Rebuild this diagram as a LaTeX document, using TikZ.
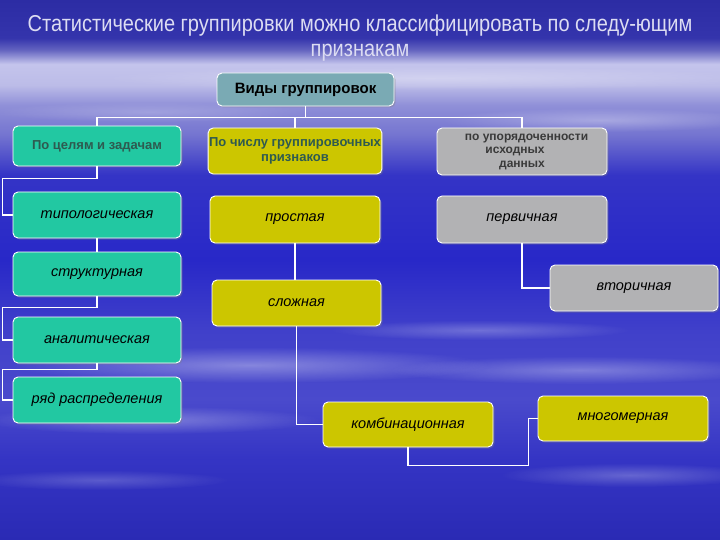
\documentclass[tikz,border=0pt]{standalone}
\usepackage{fontspec}
\setmainfont{Liberation Sans}
\newfontfamily\titlefont[FakeStretch=0.87]{Liberation Sans}
\usetikzlibrary{fadings,shadows}
\definecolor{s0}{HTML}{2C2CA4}
\definecolor{s1}{HTML}{3434AC}
\definecolor{s2}{HTML}{6464C0}
\definecolor{s3}{HTML}{C4C4EC}
\definecolor{s4}{HTML}{BCBCE8}
\definecolor{s5}{HTML}{9090D8}
\definecolor{s6}{HTML}{7474D0}
\definecolor{s7}{HTML}{3434C6}
\definecolor{s8}{HTML}{2828C8}
\definecolor{s9}{HTML}{4040CA}
\definecolor{s10}{HTML}{4A4ACC}
\definecolor{s11}{HTML}{3434C4}
\definecolor{s12}{HTML}{2A2AB4}
\definecolor{tealbox}{HTML}{22C8A2}
\definecolor{yelbox}{HTML}{CCC600}
\definecolor{graybox}{HTML}{B2B2B4}
\definecolor{topbox}{HTML}{7AAAB4}
\definecolor{hdtext}{HTML}{2E5A50}
\definecolor{hdgray}{HTML}{3A3A3A}
\definecolor{titlec}{HTML}{DCDCF2}
\tikzfading[name=softcloud, inner color=transparent!0, outer color=transparent!100]
% y pixel p -> 75 - p/10.8
\pgfdeclareverticalshading{bgshade}{100bp}{%
color(0bp)=(s12); color(25bp)=(s12); color(32.4bp)=(s11); color(38bp)=(s10);
color(44.4bp)=(s9); color(50.9bp)=(s8); color(58.8bp)=(s7); color(62.5bp)=(s6);
color(65.28bp)=(s5); color(67.13bp)=(s4); color(69.07bp)=(s3); color(70.37bp)=(s2);
color(71.48bp)=(s1); color(75bp)=(s0); color(100bp)=(s0)}
\tikzset{
  box/.style={draw=white, line width=0.9pt, rounded corners=5pt, align=center,
    inner sep=1pt, drop shadow={shadow xshift=1.5pt, shadow yshift=-1.5pt, opacity=0.35}},
  tbox/.style={box, fill=tealbox},
  ybox/.style={box, fill=yelbox},
  gbox/.style={box, fill=graybox},
  head/.style={font=\fontsize{13}{14.5}\selectfont\bfseries, text=hdtext},
  itl/.style={font=\fontsize{14.5}{16}\selectfont\itshape, text=black},
  link/.style={draw=white, line width=1.6pt},
  cloud/.style={fill=white, path fading=softcloud},
  ttl/.style={text=titlec, font=\titlefont\fontsize{23}{26}\selectfont, anchor=base, inner sep=0pt},
}
\begin{document}
\begin{tikzpicture}[x=1pt,y=-1pt]
\useasboundingbox (0,0) rectangle (720,540);
\shade[shading=bgshade] (0,0) rectangle (720,540);
% streaks / clouds
\fill[cloud, opacity=0.3] (430,78) ellipse (330 and 12);
\fill[cloud, opacity=0.3] (600,120) ellipse (160 and 12);
\fill[cloud, opacity=0.2] (150,112) ellipse (160 and 10);
\fill[cloud, opacity=0.35] (250,365) ellipse (240 and 18);
\fill[cloud, opacity=0.3] (150,420) ellipse (170 and 14);
\fill[cloud, opacity=0.3] (580,370) ellipse (190 and 14);
\fill[cloud, opacity=0.25] (480,330) ellipse (150 and 10);
\fill[cloud, opacity=0.25] (630,475) ellipse (130 and 12);
\fill[cloud, opacity=0.2] (100,480) ellipse (130 and 10);
% title
\node[ttl] (title) at (360,32) {Статистические группировки можно классифицировать по следу-ющим};
\node[ttl] (title2) at (360,57) {признакам};
% nodes
\node[box, fill=topbox, minimum width=177pt, minimum height=33pt, font=\fontsize{15}{17}\selectfont\bfseries] (top) at (305.5,89.5) {Виды группировок};
\node[tbox, head, minimum width=168pt, minimum height=40pt] (c1) at (97,146) {По целям и задачам};
\node[ybox, head, minimum width=170pt, minimum height=46pt] (c2) at (295,151) {По числу группировочных\\признаков};
\node[gbox, text=hdgray, font=\fontsize{12}{13.5}\selectfont\bfseries, minimum width=170pt, minimum height=47pt] (c3) at (522,151.5) {\hspace*{9pt}по упорядоченности\\\hspace*{-14pt}исходных\\данных};
\node[tbox, itl, minimum width=168pt, minimum height=46pt] (t1) at (97,215) {типологическая};
\node[ybox, itl, minimum width=170pt, minimum height=47pt] (p1) at (295,219.5) {простая};
\node[gbox, itl, minimum width=170pt, minimum height=47pt] (v1) at (522,219.5) {первичная};
\node[tbox, itl, minimum width=168pt, minimum height=44pt] (t2) at (97,274) {структурная};
\node[ybox, itl, minimum width=169pt, minimum height=46pt] (p2) at (296.5,303) {сложная};
\node[gbox, itl, minimum width=168pt, minimum height=46pt] (v2) at (634,288) {вторичная};
\node[tbox, itl, minimum width=168pt, minimum height=46pt] (t3) at (97,340) {аналитическая};
\node[tbox, itl, minimum width=168pt, minimum height=46pt] (t4) at (97,400) {ряд распределения};
\node[ybox, itl, minimum width=170pt, minimum height=45pt] (p3) at (408,424.5) {комбинационная};
\node[ybox, itl, minimum width=170pt, minimum height=45pt] (p4) at (623,418.5) {многомерная};
% connectors
\draw[link] (top.south) -- ++(0,11) coordinate (j);
\draw[link] (c1.north) |- (j);
\draw[link] (c3.north) |- (j);
\draw[link] (c2.north) -- (c2.north |- j);
\draw[link] (c1.south) -- ++(0,12) -| ([xshift=-10pt]t1.west) -- (t1.west);
\draw[link] (t1.south) -- (t2.north);
\draw[link] (t2.south) -- ++(0,11) -| ([xshift=-10pt]t3.west) -- (t3.west);
\draw[link] (t3.south) -- ++(0,6) -| ([xshift=-10pt]t4.west) -- (t4.west);
\draw[link] (p1.south) -- (p1.south |- p2.north);
\draw[link] (p2.south) |- (p3.west);
\draw[link] (p3.south) -- ++(0,18) -| ([xshift=-9pt]p4.west) -- (p4.west);
\draw[link] (v1.south) |- (v2.west);
\end{tikzpicture}
\end{document}
